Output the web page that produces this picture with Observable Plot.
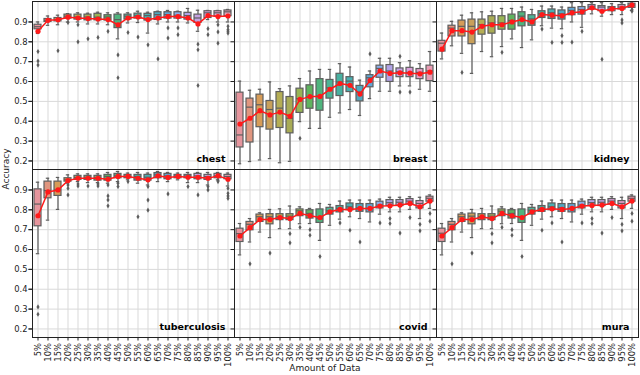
<!DOCTYPE html>
<html><head><meta charset="utf-8">
<script src="https://cdn.jsdelivr.net/npm/d3@7"></script>
<script src="https://cdn.jsdelivr.net/npm/@observablehq/plot@0.6"></script>
<style>body{margin:0;background:#fff}</style>
</head><body><div id="chart"></div>
<script>
const pcts = ["5%","10%","15%","20%","25%","30%","35%","40%","45%","50%","55%","60%","65%","70%","75%","80%","85%","90%","95%","100%"];
const datasetNames = ["chest","breast","kidney","tuberculosis","covid","mura"];
const yTicks = [0.2,0.3,0.4,0.5,0.6,0.7,0.8,0.9];

// rows: [lower whisker, q1, median, q3, upper whisker, mean]
const chest = [
 [.842,.863,.876,.886,.900,.853],[.883,.900,.908,.915,.930,.908],[.886,.903,.912,.920,.934,.911],
 [.900,.917,.929,.937,.942,.924],[.900,.912,.925,.937,.946,.920],[.890,.908,.925,.937,.944,.917],
 [.890,.908,.924,.941,.949,.915],[.886,.907,.925,.934,.946,.912],[.815,.869,.912,.937,.946,.886],
 [.895,.912,.929,.937,.946,.920],[.897,.917,.931,.942,.954,.925],[.844,.907,.932,.941,.949,.912],
 [.890,.910,.937,.949,.954,.920],[.900,.917,.937,.949,.958,.927],[.900,.917,.934,.949,.954,.927],
 [.895,.912,.932,.946,.968,.920],[.853,.895,.920,.937,.959,.890],[.912,.920,.946,.954,.958,.932],
 [.900,.927,.946,.954,.958,.927],[.900,.929,.951,.958,.963,.930]];
const chestOut = [[.751,.703,.683],[],[.755],[.897],[.886,.800],[.815],[.822],[.853],[.734,.619],[.847],
 [.824],[.785],[.714],[.870,.819],[.870,.836],[],[.788,.760,.580],[.866,.836],[.886,.850,.793],[.878,.861,.853,.844]];

const breast = [
 [.186,.268,.331,.544,.602,.386],[.197,.293,.471,.514,.556,.415],[.205,.370,.483,.534,.561,.453],
 [.212,.358,.459,.502,.598,.432],[.191,.366,.466,.547,.564,.446],[.198,.339,.415,.522,.578,.425],
 [.398,.442,.514,.564,.615,.510],[.364,.463,.522,.581,.653,.524],[.364,.453,.527,.612,.661,.525],
 [.420,.514,.568,.608,.661,.561],[.442,.527,.598,.639,.690,.590],[.459,.547,.602,.622,.673,.581],
 [.429,.500,.547,.578,.607,.537],[.514,.571,.619,.632,.653,.605],[.551,.619,.666,.680,.717,.653],
 [.551,.598,.653,.683,.717,.641],[.578,.622,.649,.666,.695,.644],[.578,.622,.646,.669,.705,.642],
 [.561,.612,.646,.663,.690,.639],[.551,.602,.653,.680,.751,.647]];
const breastOut = [[],[],[],[],[],[],[.314],[],[],[],[],[],[],[.739],[],[],[.727,.547],[.547],[],[]];

const kidney = [
 [.714,.751,.793,.805,.844,.763],[.780,.827,.869,.881,.903,.856],[.742,.827,.878,.907,.934,.856],
 [.641,.788,.878,.912,.946,.849],[.751,.836,.886,.912,.951,.878],[.725,.841,.895,.929,.954,.886],
 [.776,.861,.895,.929,.968,.886],[.815,.861,.907,.937,.968,.900],[.771,.878,.929,.949,.975,.912],
 [.810,.881,.915,.934,.963,.900],[.881,.920,.941,.954,.980,.937],[.869,.915,.946,.963,.980,.934],
 [.866,.912,.941,.958,.975,.931],[.900,.934,.958,.971,.997,.946],[.873,.937,.963,.975,.997,.951],
 [.941,.963,.976,.985,.997,.971],[.929,.954,.975,.980,.997,.954],[.937,.954,.971,.975,.992,.966],
 [.937,.963,.975,.985,.997,.968],[.958,.971,.985,.992,1.000,.985]];
const kidneyOut = [[],[],[.646],[],[],[],[.747],[],[],[],[.864],[.797],[.831,.797],[.798],[.853],[],[.712],[],[.910,.895],[.963,.954]];

const tuberculosis = [
 [.579,.717,.829,.903,.939,.770],[.748,.858,.897,.942,.959,.890],[.802,.870,.900,.942,.963,.900],
 [.934,.942,.951,.959,.976,.947],[.942,.951,.963,.971,.981,.959],[.937,.951,.964,.971,.981,.959],
 [.937,.947,.963,.971,.981,.959],[.934,.947,.968,.976,.988,.954],[.942,.959,.971,.981,.993,.968],
 [.951,.959,.968,.976,.985,.968],[.934,.947,.968,.976,.988,.959],[.925,.947,.964,.976,.985,.951],
 [.942,.959,.976,.985,.993,.971],[.942,.954,.971,.981,.988,.963],[.951,.959,.971,.976,.985,.968],
 [.937,.959,.971,.976,.988,.964],[.937,.954,.971,.981,.988,.964],[.925,.951,.968,.976,.988,.959],
 [.951,.959,.971,.981,.988,.971],[.920,.954,.968,.976,.985,.954]];
const tuberculosisOut = [[.311,.274],[],[],[.925,.908,.875],[.930,.920],[.920],[.930,.920],[.925,.870,.850,.820],[.934,.917],[.942],
 [.765],[.917,.849,.798],[],[.880],[],[.917],[.875],[.917,.900],[.947,.942],[.908,.883,.870,.858]];

const covid = [
 [.573,.638,.680,.705,.731,.668],[.638,.697,.727,.739,.756,.710],[.688,.739,.765,.776,.785,.751],
 [.660,.727,.765,.778,.802,.751],[.705,.748,.765,.778,.805,.761],[.705,.748,.768,.778,.819,.756],
 [.730,.768,.795,.802,.815,.782],[.731,.756,.782,.798,.807,.770],[.646,.734,.756,.802,.832,.761],
 [.722,.776,.795,.810,.827,.790],[.753,.787,.807,.819,.844,.802],[.765,.798,.815,.832,.849,.802],
 [.756,.790,.810,.829,.849,.807],[.739,.787,.807,.829,.849,.807],[.778,.807,.824,.841,.854,.819],
 [.790,.819,.836,.849,.863,.820],[.790,.819,.838,.849,.863,.824],[.802,.827,.844,.854,.866,.832],
 [.756,.807,.832,.844,.863,.815],[.807,.841,.858,.866,.875,.844]];
const covidOut = [[],[.528],[],[.582],[],[.680,.634],[.712],[.700,.672],[.565],[],
 [.734],[.697],[.638],[],[.734],[.756,.731],[.683],[.761],[.727,.694],[.782,.743]];

const mura = [
 [.573,.638,.682,.705,.731,.668],[.638,.697,.727,.739,.756,.710],[.688,.739,.765,.776,.785,.751],
 [.660,.727,.768,.781,.802,.751],[.705,.748,.765,.778,.807,.764],[.705,.748,.768,.778,.819,.756],
 [.730,.768,.793,.802,.815,.782],[.731,.756,.782,.798,.807,.770],[.646,.734,.765,.802,.832,.761],
 [.722,.776,.798,.810,.827,.790],[.753,.790,.807,.819,.844,.802],[.765,.798,.815,.832,.849,.805],
 [.756,.790,.810,.829,.849,.802],[.739,.787,.807,.829,.849,.807],[.778,.807,.824,.841,.854,.819],
 [.790,.819,.836,.849,.863,.822],[.790,.819,.838,.849,.863,.824],[.802,.827,.844,.854,.866,.832],
 [.756,.807,.832,.844,.863,.815],[.807,.841,.858,.866,.875,.844]];
const muraOut = [[],[.528],[],[.582],[],[.680,.634],[.712],[.700,.672],[.565],[],
 [.697],[.734],[.638],[],[.734],[.756,.731],[.683],[.761],[.727,.694],[.782,.743]];

const statArrays = [chest, breast, kidney, tuberculosis, covid, mura];
const outArrays = [chestOut, breastOut, kidneyOut, tuberculosisOut, covidOut, muraOut];

// box fill colours, one per amount of data
const palette = ["#e5959d","#e0967f","#d69c58","#c9a05a","#b5ae55","#a8ab55","#98b455","#5fb35f","#4fb47d","#4ab495",
                 "#48b0a0","#4aaeb0","#4fa8c0","#5fa6d5","#8aaee8","#b2a3e6","#c4a2e2","#d99ed9","#e59dc8","#e89db5"];
const gray = "#5e5e5e";

const stats = [], outs = [], labels = [];
datasetNames.forEach((name, i) => {
  const col = i % 3, row = Math.floor(i / 3);
  labels.push({name, col, row});
  statArrays[i].forEach((d, j) => stats.push({name, col, row, pct: pcts[j], lo: d[0], q1: d[1], med: d[2], q3: d[3], hi: d[4], mean: d[5]}));
  outArrays[i].forEach((vals, j) => vals.forEach(v => outs.push({name, col, row, pct: pcts[j], v})));
});

const thinDiamond = {draw(ctx, size) {
  const r = Math.sqrt(size / Math.PI), w = r * 0.6;
  ctx.moveTo(0, -r); ctx.lineTo(w, 0); ctx.lineTo(0, r); ctx.lineTo(-w, 0); ctx.closePath();
}};

const F = {fx: "col", fy: "row"};
const gridColor = "#d9d9d9";
const plot = Plot.plot({
  width: 640, height: 375,
  marginLeft: 32, marginRight: 2, marginTop: 1, marginBottom: 38,
  style: {fontFamily: "'DejaVu Sans', sans-serif", fontSize: "8.4px", background: "white", color: "#222"},
  x: {type: "band", domain: pcts, paddingInner: 0.28, paddingOuter: 0.14, label: null},
  y: {domain: [0.157, 1.003], label: null},
  fx: {domain: [0, 1, 2], padding: 0, axis: null},
  fy: {domain: [0, 1], padding: 0, axis: null},
  color: {type: "ordinal", domain: pcts, range: palette},
  marks: [
    Plot.gridY({ticks: yTicks, stroke: gridColor, strokeOpacity: 1, strokeWidth: 1}),
    Plot.gridX({stroke: gridColor, strokeOpacity: 1, strokeWidth: 1}),
    Plot.ruleX(stats, {...F, x: "pct", y1: "lo", y2: "q1", stroke: gray, strokeWidth: 1.2}),
    Plot.ruleX(stats, {...F, x: "pct", y1: "q3", y2: "hi", stroke: gray, strokeWidth: 1.2}),
    Plot.tickY(stats, {...F, x: "pct", y: "lo", stroke: gray, strokeWidth: 1.2, insetLeft: 1.8, insetRight: 1.8}),
    Plot.tickY(stats, {...F, x: "pct", y: "hi", stroke: gray, strokeWidth: 1.2, insetLeft: 1.8, insetRight: 1.8}),
    Plot.barY(stats, {...F, x: "pct", y1: "q1", y2: "q3", fill: "pct", stroke: gray, strokeWidth: 1.2}),
    Plot.tickY(stats, {...F, x: "pct", y: "med", stroke: gray, strokeWidth: 1.2}),
    Plot.dot(outs, {...F, x: "pct", y: "v", symbol: thinDiamond, r: 2.6, fill: gray, stroke: null}),
    Plot.line(stats, {...F, x: "pct", y: "mean", stroke: "#ff1a1a", strokeWidth: 1.5}),
    Plot.dot(stats, {...F, x: "pct", y: "mean", fill: "#ff1a1a", r: 2.6, stroke: null}),
    Plot.frame({stroke: "#222", strokeWidth: 1}),
    Plot.axisY({ticks: yTicks, tickFormat: ".1f", tickSize: 3.5, tickPadding: 1.5, label: null, stroke: "#222"}),
    Plot.axisY({ticks: yTicks, tickFormat: () => "", tickSize: 3.5, label: null, facetAnchor: null, stroke: "#222"}),
    Plot.axisX({tickRotate: -90, tickSize: 3.5, tickPadding: 2, label: null, stroke: "#222"}),
    Plot.text(labels, {...F, text: "name", frameAnchor: "bottom-right", textAnchor: "end", lineAnchor: "bottom", dx: -9, dy: -8, fontWeight: "bold", fontSize: 9.5, fill: "black"})
  ]
});
document.getElementById("chart").append(plot);
const svg = d3.select(plot);
svg.append("text").attr("transform", "translate(9,169) rotate(-90)").attr("text-anchor", "middle")
  .attr("font-size", 9).attr("fill", "#222").text("Accuracy");
svg.append("text").attr("x", 325).attr("y", 371).attr("text-anchor", "middle")
  .attr("font-size", 9).attr("fill", "#222").text("Amount of Data");
</script>
</body></html>
